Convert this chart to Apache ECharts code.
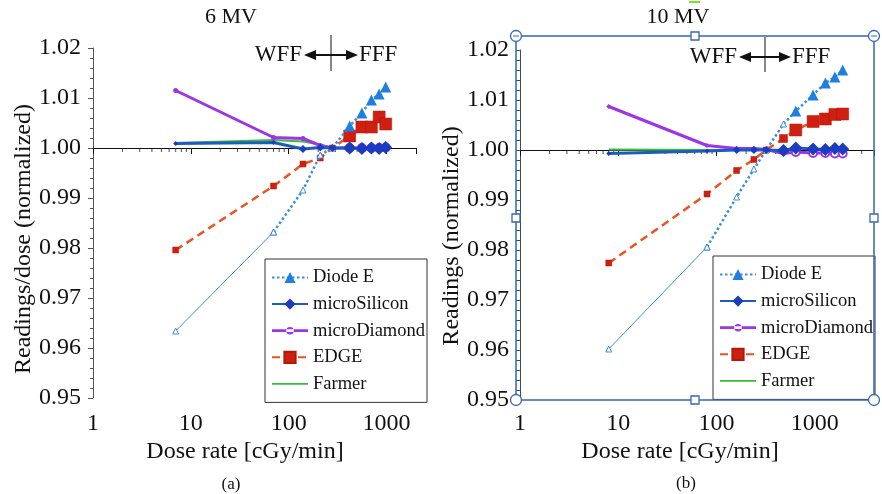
<!DOCTYPE html>
<html>
<head>
<meta charset="utf-8">
<script src="https://cdn.jsdelivr.net/npm/echarts@6/dist/echarts.min.js"></script>
<style>
  html, body { margin: 0; padding: 0; background: #fff; }
  #chart { width: 882px; height: 494px; }
</style>
</head>
<body>
<div id="chart"></div>
<script>
// Dose rates [cGy/min]; the first five are flattened beams (WFF), the rest flattening-filter-free (FFF)
const doseRate6MV = [7, 70, 140, 210, 280, 420, 560, 700, 840, 980];
const doseRate10MV = [8, 80, 160, 240, 320, 480, 640, 960, 1280, 1600, 1920];
const fffStart6MV = 5;    // first index drawn with large FFF markers
const fffStart10MV = 6;

// 6 MV: readings per dose, normalized
const diodeE6MV       = [0.9634, 0.9832, 0.9916, 0.9986, 1.0000, 1.0044, 1.0070, 1.0096, 1.0108, 1.0122];
const microSilicon6MV = [1.0009, 1.0011, 0.9998, 1.0001, 1.0000, 1.0000, 0.9999, 1.0000, 0.9999, 1.0001];
const microDiamond6MV = [1.0115, 1.0021, 1.0019, 1.0005, 1.0000, 1.0000, 1.0000, 1.0000, 1.0000, 1.0001];
const edge6MV         = [0.9796, 0.9924, 0.9968, 0.9980, 1.0000, 1.0024, 1.0042, 1.0042, 1.0062, 1.0048];
const farmer6MV       = [1.0010, 1.0016, 1.0013, 1.0007, 1.0000];

// 10 MV: readings, normalized
const diodeE10MV       = [0.9602, 0.9806, 0.9906, 0.9962, 1.0000, 1.0052, 1.0078, 1.0110, 1.0134, 1.0146, 1.0160];
const microSilicon10MV = [0.9993, 0.9998, 1.0000, 1.0000, 1.0000, 0.9999, 1.0004, 1.0002, 1.0001, 1.0003, 1.0002];
const microDiamond10MV = [1.0087, 1.0009, 1.0003, 1.0003, 1.0001, 0.9993, 0.9996, 0.9994, 0.9994, 0.9993, 0.9993];
const edge10MV         = [0.9774, 0.9912, 0.9959, 0.9981, 1.0000, 1.0023, 1.0040, 1.0057, 1.0062, 1.0071, 1.0072];
const farmer10MV       = [1.0001, 1.0000, 1.0000, 1.0000, 1.0000];

// Axis ranges and log minor tick positions
const doseAxisMax = [2000, 4000];
const readingMin = 0.95, readingMax = 1.02, readingStep = 0.01;
const logMinorTicks6MV = [2,3,4,5,6,7,8,9,20,30,40,50,60,70,80,90,200,300,400,500,600,700,800,900];
const logMinorTicks10MV = [2,3,4,5,6,7,8,9,20,30,40,50,60,70,80,90,200,300,400,500,600,700,800,900,2000,3000];

const seriesNames = ['Diode E', 'microSilicon', 'microDiamond', 'EDGE', 'Farmer'];

const FONT = '"Liberation Serif", "Times New Roman", serif';
const C = {
  diode: '#3a8fdc', diodeMark: '#1f7fe0',
  silicon: '#1c5cbc', siliconMark: '#1a3cc0',
  diamond: '#9b35e6',
  edge: '#ee5222', edgeMark: '#cf1f10',
  farmer: '#3cbc3c',
  frame: '#3465b8'
};

function points(xs, ys, styleFor, from, to) {
  const out = [];
  for (let i = from || 0; i < (to === undefined ? ys.length : to); i++) {
    out.push(Object.assign({ value: [xs[i], ys[i]] }, styleFor ? styleFor(i) : {}));
  }
  return out;
}

function panelSeries(p, xs, fffStart, d) {
  const ax = { xAxisIndex: p * 2, yAxisIndex: p };
  const openTri = { color: '#fff', borderColor: C.diode, borderWidth: 1 };
  return [
    Object.assign({
      name: 'Farmer', type: 'line', z: 2, symbol: 'none',
      lineStyle: { color: C.farmer, width: 2 }, itemStyle: { color: C.farmer },
      data: points(xs, d.farmer)
    }, ax),
    Object.assign({
      name: 'microDiamond', type: 'line', z: 3, symbol: p === 0 ? 'circle' : 'diamond',
      lineStyle: { color: C.diamond, width: 3 }, itemStyle: { color: C.diamond },
      data: points(xs, d.diamond, i => (i >= fffStart
        ? { symbolSize: 8, symbol: 'emptyCircle', itemStyle: { color: C.diamond, borderWidth: 2 } }
        : { symbolSize: 5 }))
    }, ax),
    Object.assign({
      name: 'EDGE', type: 'line', z: 4, symbol: 'rect',
      lineStyle: { color: C.edge, width: 2.5, type: [8, 5] },
      itemStyle: { color: C.edgeMark, borderColor: '#b01808', borderWidth: 0.5 },
      data: points(xs, d.edge, i => ({ symbolSize: i >= fffStart ? 12 : (i >= 5 ? 8 : 6) }))
    }, ax),
    Object.assign({
      name: 'Diode E', type: 'line', z: 5, symbol: 'triangle',
      lineStyle: { color: C.diode, width: 2.5, type: [2.5, 2.5] },
      itemStyle: { color: C.diodeMark },
      data: points(xs, d.diode, i => (i >= fffStart
        ? { symbolSize: 11 }
        : { symbolSize: 6, itemStyle: openTri }), 1)
    }, ax),
    Object.assign({
      name: 'Diode E', type: 'line', z: 5, symbol: 'triangle',
      lineStyle: { color: C.diode, width: 1 },
      itemStyle: openTri,
      data: points(xs, d.diode, () => ({ symbolSize: 6 }), 0, 2)
    }, ax),
    Object.assign({
      name: 'microSilicon', type: 'line', z: 6, symbol: 'diamond',
      lineStyle: { color: C.silicon, width: 3 }, itemStyle: { color: C.siliconMark },
      data: points(xs, d.silicon, i => ({ symbolSize: i >= 5 ? 13 : (i >= 2 ? 8 : 5) }))
    }, ax)
  ];
}

function minorTickSeries(p, values) {
  return {
    type: 'scatter', xAxisIndex: p * 2, yAxisIndex: p, silent: true, z: 1,
    symbol: 'rect', symbolSize: [1, 4], symbolOffset: [0, 2],
    itemStyle: { color: '#222' },
    data: values.map(v => [v, 1.0])
  };
}

const grids = [
  { left: 93, top: 48, width: 323, height: 350 },
  { left: 520, top: 50, width: 354, height: 350 }
];

const xAxes = [];
grids.forEach((g, p) => {
  const crossOffset = -g.height * (1.0 - readingMin) / (readingMax - readingMin);
  // axis drawn through the 1.00 reading, ticks only
  xAxes.push({
    gridIndex: p, type: 'log', logBase: 10, min: 1, max: doseAxisMax[p],
    position: 'bottom', offset: crossOffset,
    axisLine: { show: true, onZero: false, lineStyle: { color: '#111', width: 1 } },
    axisTick: { show: true, length: 6, lineStyle: { color: '#111' } },
    axisLabel: { show: false }, splitLine: { show: false }
  });
  // bottom labels
  xAxes.push({
    gridIndex: p, type: 'log', logBase: 10, min: 1, max: doseAxisMax[p],
    position: 'bottom',
    axisLine: { show: false, onZero: false }, axisTick: { show: false },
    splitLine: { show: false },
    axisLabel: {
      fontFamily: FONT, fontSize: 24, color: '#111', margin: p === 0 ? 14 : 12,
      showMaxLabel: false, showMinLabel: true,
      formatter: v => String(Math.round(v))
    }
  });
});

const yAxes = grids.map((g, p) => ({
  gridIndex: p, type: 'value', min: readingMin, max: readingMax, interval: readingStep,
  axisLine: { show: true, onZero: false, lineStyle: { color: p === 0 ? '#555' : '#3b4a66', width: 1 } },
  axisTick: { show: true, length: p === 0 ? 5 : 4, lineStyle: { color: p === 0 ? '#555' : '#3b4a66' } },
  minorTick: { show: true, splitNumber: 5, length: p === 0 ? 3 : 4, lineStyle: { color: p === 0 ? '#555' : '#3b4a66' } },
  splitLine: { show: false },
  axisLabel: {
    fontFamily: FONT, fontSize: 24, color: '#111', margin: p === 0 ? 12 : 11,
    formatter: v => v.toFixed(2)
  }
}));

// custom legend icons: plain line for Farmer, line with a small dot for microDiamond
const legendIcons = {
  'Farmer': 'path://M0,6.2h36v1.6h-36z',
  'microDiamond': 'path://M0,5.6h36v2.8h-36zM14.2,7a3.8,3.8 0 1,0 7.6,0a3.8,3.8 0 1,0 -7.6,0z'
};
const legendItems = seriesNames.map(n => (legendIcons[n] ? { name: n, icon: legendIcons[n] } : { name: n }));

const legendBase = {
  orient: 'vertical', selectedMode: false, data: legendItems,
  itemWidth: 36, itemHeight: 14, itemGap: 7.6,
  borderColor: '#333', borderWidth: 1, backgroundColor: '#fff',
  textStyle: { fontFamily: FONT, fontSize: 18.5, color: '#111' }
};
const legends = [
  Object.assign({}, legendBase, { left: 265, top: 259, padding: [9, 2, 9, 6] }),
  Object.assign({}, legendBase, { left: 713, top: 256, padding: [9, 2, 9, 6] })
];

function txt(x, y, text, size, align, extra) {
  return Object.assign({
    type: 'text', x: x, y: y, silent: true,
    style: { text: text, fontFamily: FONT, fontSize: size, fill: '#111', align: align || 'center', verticalAlign: 'middle' }
  }, extra || {});
}
function seg(x1, y1, x2, y2, color, w) {
  return { type: 'line', silent: true, shape: { x1, y1, x2, y2 }, style: { stroke: color, lineWidth: w } };
}
function tri(pts) {
  return { type: 'polygon', silent: true, shape: { points: pts }, style: { fill: '#111' } };
}
function wffFff(xDiv, y, top, bottom, xl, xr) {
  return [
    seg(xDiv, top, xDiv, bottom, '#111', 1),
    seg(xl + 8, y, xr - 8, y, '#111', 2),
    tri([[xl, y], [xl + 12, y - 5], [xl + 12, y + 5]]),
    tri([[xr, y], [xr - 12, y - 5], [xr - 12, y + 5]]),
    txt(xl - 2, y, 'WFF', 23, 'right'),
    txt(xr + 1, y, 'FFF', 23, 'left')
  ];
}

// selection frame around the 10 MV panel
const fx0 = 516, fy0 = 36, fx1 = 874, fy1 = 400;
const fxm = 695, fym = 218;
function handleCircle(x, y, dash) {
  const els = [{ type: 'circle', silent: true, z: 20, shape: { cx: x, cy: y, r: 5.5 }, style: { fill: '#fff', stroke: C.frame, lineWidth: 1.3 } }];
  if (dash) els.push(Object.assign(seg(x - 3, y, x + 3, y, C.frame, 1), { z: 21 }));
  return els;
}
function handleSquare(x, y) {
  return { type: 'rect', silent: true, z: 20, shape: { x: x - 4, y: y - 4, width: 8, height: 8 }, style: { fill: '#fff', stroke: C.frame, lineWidth: 1.3 } };
}

const graphics = [
  txt(231, 17, '6 MV', 22),
  txt(678, 17, '10 MV', 22),
  { type: 'rect', silent: true, shape: { x: 689, y: 1, width: 11, height: 2 }, style: { fill: '#7ee030' } },
  txt(24, 239, 'Readings/dose (normalized)', 24, 'center', { rotation: Math.PI / 2 }),
  txt(452, 236, 'Readings (normalized)', 24, 'center', { rotation: Math.PI / 2 }),
  txt(245, 452, 'Dose rate [cGy/min]', 24),
  txt(680, 452, 'Dose rate [cGy/min]', 24),
  txt(231, 485, '(a)', 17),
  txt(686, 484, '(b)', 17),
  { type: 'rect', silent: true, z: 19, shape: { x: fx0, y: fy0, width: fx1 - fx0, height: fy1 - fy0 }, style: { fill: 'none', stroke: C.frame, lineWidth: 1.5 } }
]
  .concat(wffFff(331, 55, 35, 71, 304, 358))
  .concat(wffFff(765, 57, 37, 72, 739, 791))
  .concat(handleCircle(fx0, fy0, true), handleCircle(fx1, fy0, true), handleCircle(fx0, fy1, false), handleCircle(fx1, fy1, false))
  .concat([handleSquare(fxm, fy0), handleSquare(fx0, fym), handleSquare(fx1, fym), handleSquare(fxm, fy1)]);

const series = []
  .concat(panelSeries(0, doseRate6MV, fffStart6MV, {
    diode: diodeE6MV, silicon: microSilicon6MV, diamond: microDiamond6MV, edge: edge6MV, farmer: farmer6MV
  }))
  .concat(panelSeries(1, doseRate10MV, fffStart10MV, {
    diode: diodeE10MV, silicon: microSilicon10MV, diamond: microDiamond10MV, edge: edge10MV, farmer: farmer10MV
  }))
  .concat([minorTickSeries(0, logMinorTicks6MV), minorTickSeries(1, logMinorTicks10MV)]);

const chart = echarts.init(document.getElementById('chart'), null, { renderer: 'canvas' });
chart.setOption({
  animation: false,
  backgroundColor: '#fff',
  grid: grids,
  xAxis: xAxes,
  yAxis: yAxes,
  legend: legends,
  series: series,
  graphic: graphics
});
</script>
</body>
</html>
